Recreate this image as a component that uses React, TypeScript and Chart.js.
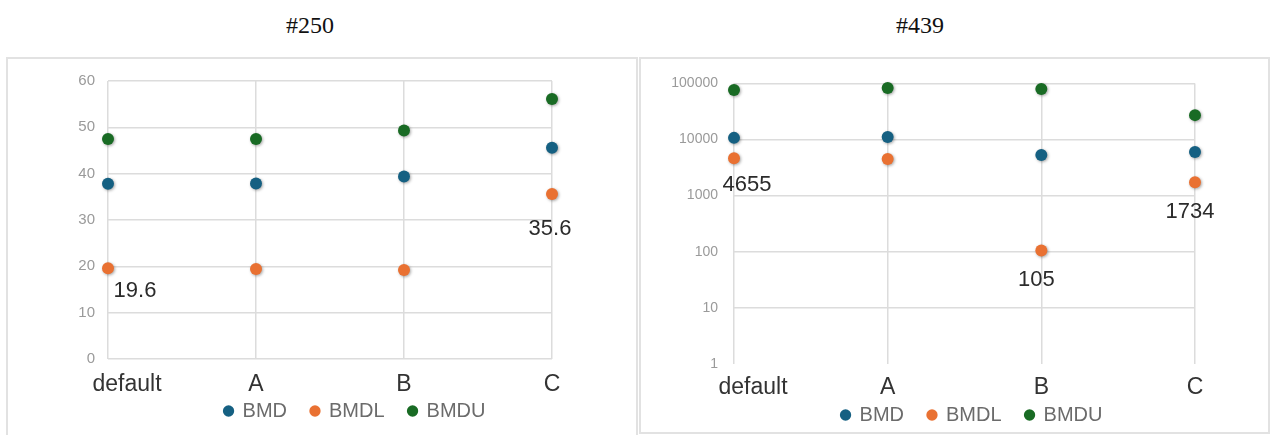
import React, { useEffect, useRef } from 'react';
import { Chart, registerables } from 'chart.js';

Chart.register(...registerables);

// ---------- data ----------
const categories = ['default', 'A', 'B', 'C'];
const seriesNames = ['BMD', 'BMDL', 'BMDU'];
const seriesColors = ['#156082', '#E97132', '#196B24'];

const titleLeft = '#250';
const titleRight = '#439';

const leftBMD = [37.8, 37.9, 39.4, 45.6];
const leftBMDL = [19.6, 19.4, 19.2, 35.6];
const leftBMDU = [47.5, 47.5, 49.3, 56.1];
const leftYTicks = [0, 10, 20, 30, 40, 50, 60];

const rightBMD = [10700, 11100, 5300, 6000];
const rightBMDL = [4655, 4500, 105, 1734];
const rightBMDU = [76600, 83000, 79600, 27200];
const rightYTicks = [1, 10, 100, 1000, 10000, 100000];

// which points carry a value label (series index, category index)
const leftLabelled = [
  { series: 1, index: 0 },
  { series: 1, index: 3 },
];
const rightLabelled = [
  { series: 1, index: 0 },
  { series: 1, index: 2 },
  { series: 1, index: 3 },
];

// ---------- style ----------
const SANS = '"Liberation Sans", Arial, sans-serif';
const GRID = '#dcdcdc';

type PanelStyle = {
  width: number;
  height: number;
  padding: { left: number; right: number; top: number; bottom: number };
  yWidth: number;
  xHeight: number;
  yTickPad: number;
  yTickSize: number;
  xTickPad: number;
  legendCenter: number;
  legendTop: number;
  xLabelShift: number[];
  labelOffsets: { dx: number; dy: number }[];
};

function makePlugin(st: PanelStyle, labelled: { series: number; index: number }[]) {
  return {
    id: 'panelDecor',
    afterLayout(chart: any) {
      const lg = chart.legend;
      if (lg) {
        const c = (lg.left + lg.right) / 2;
        const d = st.legendCenter - c;
        lg.left += d;
        lg.right += d;
        const h = lg.bottom - lg.top;
        lg.top = st.legendTop;
        lg.bottom = st.legendTop + h;
      }
    },
    beforeDraw(chart: any) {
      const xs = chart.scales.x;
      const items = xs.getLabelItems(chart.chartArea);
      items.forEach((it: any, i: number) => {
        if (!it.__shifted) {
          it.options.translation[0] += st.xLabelShift[i] || 0;
          it.__shifted = true;
        }
      });
    },
    beforeDatasetsDraw(chart: any) {
      const ctx = chart.ctx;
      ctx.save();
      ctx.shadowColor = 'rgba(0,0,0,0.35)';
      ctx.shadowBlur = 3;
      ctx.shadowOffsetX = 1;
      ctx.shadowOffsetY = 1;
    },
    afterDatasetsDraw(chart: any) {
      const ctx = chart.ctx;
      ctx.restore();
      ctx.save();
      ctx.font = `22px ${SANS}`;
      ctx.fillStyle = '#2b2b2b';
      ctx.textAlign = 'center';
      ctx.textBaseline = 'middle';
      labelled.forEach((l, k) => {
        const pt = chart.getDatasetMeta(l.series).data[l.index];
        const v = chart.data.datasets[l.series].data[l.index];
        const off = st.labelOffsets[k];
        ctx.fillText(String(v), pt.x + off.dx, pt.y + off.dy);
      });
      ctx.restore();
    },
  };
}

function buildConfig(
  values: number[][],
  yTicks: number[],
  log: boolean,
  st: PanelStyle,
  labelled: { series: number; index: number }[]
): any {
  const yScale: any = {
    type: log ? 'logarithmic' : 'linear',
    min: yTicks[0],
    max: yTicks[yTicks.length - 1],
    border: { display: false },
    grid: {
      color: (c: any) => (log && c.tick && c.tick.value === yTicks[0] ? 'rgba(0,0,0,0)' : GRID),
      lineWidth: 1.5,
      drawTicks: false,
    },
    ticks: {
      padding: st.yTickPad,
      color: '#9a9a9a',
      font: { size: st.yTickSize, family: SANS },
      callback: (v: any) => String(v),
    },
    afterBuildTicks: (s: any) => {
      s.ticks = yTicks.map((v) => ({ value: v }));
    },
    afterFit: (s: any) => {
      s.width = st.yWidth;
    },
  };
  return {
    type: 'line',
    data: {
      labels: categories,
      datasets: seriesNames.map((name, i) => ({
        label: name,
        data: values[i],
        showLine: false,
        clip: false,
        pointRadius: 6,
        pointHoverRadius: 6,
        pointBorderWidth: 0,
        pointBackgroundColor: seriesColors[i],
        backgroundColor: seriesColors[i],
        borderColor: seriesColors[i],
      })),
    },
    options: {
      responsive: false,
      animation: false,
      devicePixelRatio: 1,
      events: [],
      layout: { padding: st.padding },
      plugins: {
        tooltip: { enabled: false },
        legend: {
          display: true,
          position: 'bottom',
          labels: {
            usePointStyle: true,
            pointStyle: 'circle',
            boxWidth: 8,
            boxHeight: 8,
            padding: 24,
            color: '#6b6b6b',
            font: { size: 20, family: SANS },
          },
        },
      },
      scales: {
        x: {
          type: 'category',
          offset: false,
          border: { display: false },
          grid: { color: GRID, lineWidth: 1.5, drawTicks: false },
          ticks: {
            padding: st.xTickPad,
            color: '#333333',
            autoSkip: false,
            maxRotation: 0,
            font: { size: 23, family: SANS },
          },
          afterFit: (s: any) => {
            s.height = st.xHeight;
          },
        },
        y: yScale,
      },
    },
    plugins: [makePlugin(st, labelled)],
  };
}

// canvas-relative positions
const leftStyle: PanelStyle = {
  width: 628,
  height: 394,
  padding: { left: 0, right: 84, top: 20, bottom: 0 },
  yWidth: 100,
  xHeight: 40,
  yTickPad: 13,
  yTickSize: 15,
  xTickPad: 12,
  legendCenter: 347,
  legendTop: 318,
  xLabelShift: [19, 0, 0, 0],
  labelOffsets: [
    { dx: 27, dy: 23 },
    { dx: -2, dy: 35 },
  ],
};

const rightStyle: PanelStyle = {
  width: 626,
  height: 399,
  padding: { left: 0, right: 72, top: 19, bottom: 0 },
  yWidth: 93,
  xHeight: 40,
  yTickPad: 16,
  yTickSize: 14,
  xTickPad: 10,
  legendCenter: 331,
  legendTop: 322,
  xLabelShift: [19, 0, 0, 0],
  labelOffsets: [
    { dx: 13, dy: 27 },
    { dx: -5, dy: 29 },
    { dx: -5, dy: 30 },
  ],
};

function ChartCanvas(props: {
  values: number[][];
  yTicks: number[];
  log: boolean;
  st: PanelStyle;
  labelled: { series: number; index: number }[];
  left: number;
  top: number;
}) {
  const ref = useRef<HTMLCanvasElement>(null);
  useEffect(() => {
    if (!ref.current) return;
    const chart = new Chart(
      ref.current,
      buildConfig(props.values, props.yTicks, props.log, props.st, props.labelled)
    );
    return () => chart.destroy();
  }, []);
  return (
    <canvas
      ref={ref}
      width={props.st.width}
      height={props.st.height}
      style={{
        position: 'absolute',
        left: props.left,
        top: props.top,
        width: props.st.width,
        height: props.st.height,
        display: 'block',
      }}
    />
  );
}

export default function App() {
  const titleStyle: React.CSSProperties = {
    position: 'absolute',
    top: 13,
    width: 200,
    textAlign: 'center',
    fontFamily: '"Liberation Serif", "Times New Roman", serif',
    fontSize: 24,
    lineHeight: '24px',
    color: '#111',
  };
  const boxStyle: React.CSSProperties = {
    position: 'absolute',
    top: 57,
    border: '2px solid #e2e2e2',
    boxSizing: 'border-box',
    background: '#fff',
  };
  return (
    <div
      style={{
        position: 'fixed',
        left: 0,
        top: 0,
        width: 1270,
        height: 435,
        overflow: 'hidden',
        background: '#fff',
      }}
    >
      <div style={{ ...titleStyle, left: 210 }}>{titleLeft}</div>
      <div style={{ ...titleStyle, left: 820 }}>{titleRight}</div>
      <div style={{ ...boxStyle, left: 6, width: 632, height: 400 }} />
      <div style={{ ...boxStyle, left: 639, width: 631, height: 377 }} />
      <ChartCanvas
        values={[leftBMD, leftBMDL, leftBMDU]}
        yTicks={leftYTicks}
        log={false}
        st={leftStyle}
        labelled={leftLabelled}
        left={8}
        top={59}
      />
      <ChartCanvas
        values={[rightBMD, rightBMDL, rightBMDU]}
        yTicks={rightYTicks}
        log={true}
        st={rightStyle}
        labelled={rightLabelled}
        left={641}
        top={59}
      />
    </div>
  );
}
